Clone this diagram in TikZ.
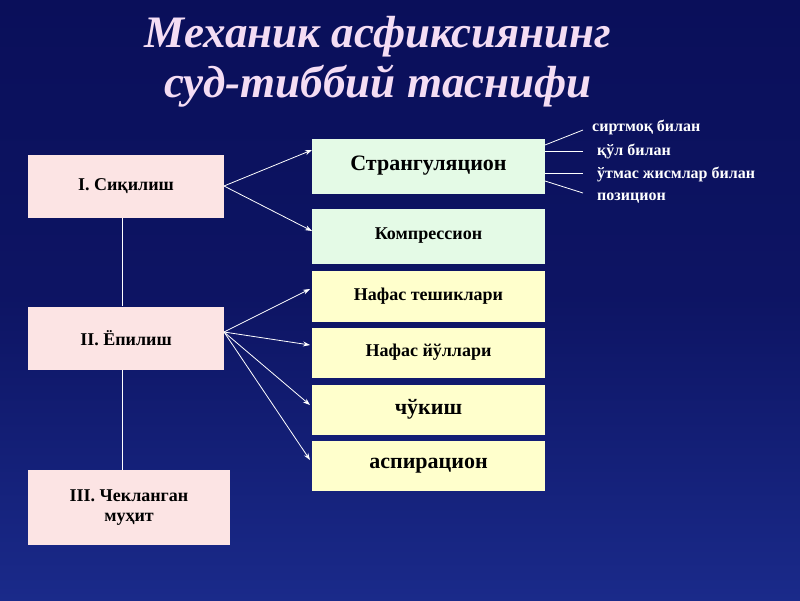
\documentclass[tikz,border=0pt]{standalone}
\usepackage{fontspec}
\setmainfont{Liberation Serif}
\usetikzlibrary{arrows.meta}
\definecolor{bgA}{HTML}{0A0F5A}
\definecolor{bgB}{HTML}{1A2A8A}
\definecolor{pinkb}{HTML}{FCE4E4}
\definecolor{greenb}{HTML}{E4FAE6}
\definecolor{yellb}{HTML}{FFFFCC}
\definecolor{titlec}{HTML}{F4DDF4}
\begin{document}
\begin{tikzpicture}[x=1pt,y=-1pt,
  box/.style={draw=none,minimum height=#1,inner sep=2pt,font=\bfseries\fontsize{18}{20}\selectfont,align=center},
  lbox/.style={box=63pt,fill=pinkb,minimum width=196pt},
  rbox/.style={box=#1,minimum width=233pt},
  con/.style={white,line width=0.8pt},
  arr/.style={con,-{Stealth[length=7pt,width=5pt]}},
  lab/.style={anchor=west,white,font=\bfseries\fontsize{16}{18}\selectfont,inner sep=0pt}]
\shade[top color=bgA,bottom color=bgB,middle color=bgA!80!bgB] (0,0) rectangle (800,600);
\useasboundingbox (0,0) rectangle (800,600);
\node[titlec,font=\bfseries\itshape\fontsize{45}{50}\selectfont,align=center] (t) at (378,62) {Механик асфиксиянинг\\суд-тиббий таснифи};
\node[lbox] (i) at (126,186.5) {I. Сиқилиш};
\node[lbox] (ii) at (126,338) {II. Ёпилиш};
\node[box=75pt,fill=pinkb,minimum width=202pt] (iii) at (129,507.5) {III. Чекланган\\муҳит};
\node[rbox=55pt,fill=greenb,font=\bfseries\fontsize{22}{24}\selectfont] (s) at (428.5,166) {Странгуляцион};
\node[rbox=55pt,fill=greenb] (k) at (428.5,236) {Компрессион};
\node[rbox=51pt,fill=yellb] (n1) at (428.5,296) {Нафас тешиклари};
\node[rbox=50pt,fill=yellb] (n2) at (428.5,352.5) {Нафас йўллари};
\node[rbox=50pt,fill=yellb,font=\bfseries\fontsize{22}{24}\selectfont] (c) at (428.5,409.5) {чўкиш};
\node[rbox=50pt,fill=yellb,font=\bfseries\fontsize{22}{24}\selectfont] (a) at (428.5,465.5) {аспирацион};
\draw[con] (i.south -| 122,0) -- (ii.north -| 122,0);
\draw[con] (ii.south -| 122,0) -- (iii.north -| 122,0);
\coordinate (io) at (224,186);
\coordinate (iio) at (224,332);
\draw[arr] (io) -- (312,150);
\draw[arr] (io) -- (312,231);
\draw[arr] (iio) -- (310,289);
\draw[arr] (iio) -- (310,345);
\draw[arr] (iio) -- (310,405);
\draw[arr] (iio) -- (310,460);
\node[lab] (l1) at (592,127) {сиртмоқ билан};
\node[lab] (l2) at (597,151) {қўл билан};
\node[lab] (l3) at (597,174) {ўтмас жисмлар билан};
\node[lab] (l4) at (597,198) {позицион};
\draw[con] (545,145) -- (583,130);
\draw[con] (545,151) -- (583,151);
\draw[con] (545,173) -- (583,173);
\draw[con] (545,181) -- (583,193);
\end{tikzpicture}
\end{document}
